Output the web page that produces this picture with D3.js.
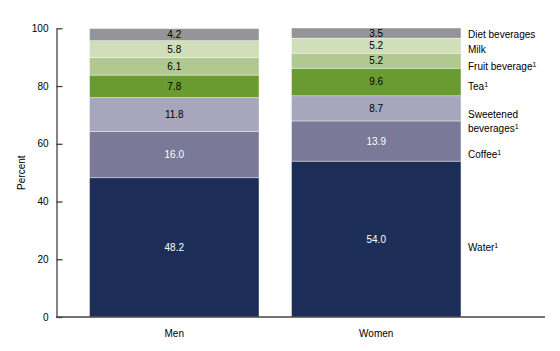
<!DOCTYPE html>
<html>
<head>
<meta charset="utf-8">
<script src="https://cdn.jsdelivr.net/npm/d3@7"></script>
<style>
  body { margin: 0; background: #fff; }
  text { font-family: "Liberation Sans", Arial, sans-serif; }
</style>
</head>
<body>
<div id="chart"></div>
<script>
// Data
const groups = ["Men", "Women"];
const beverages = ["Water", "Coffee", "Sweetened beverages", "Tea", "Fruit beverage", "Milk", "Diet beverages"];
const menValues = [48.2, 16.0, 11.8, 7.8, 6.1, 5.8, 4.2];
const womenValues = [54.0, 13.9, 8.7, 9.6, 5.2, 5.2, 3.5];
const legendLines = [["Water"], ["Coffee"], ["Sweetened", "beverages"], ["Tea"], ["Fruit beverage"], ["Milk"], ["Diet beverages"]];
const footnoted = [true, true, true, true, true, false, false];
const yTicks = [0, 20, 40, 60, 80, 100];

const colors = ["#1c2e58", "#7a7a98", "#a7a6bc", "#6a9b31", "#b1c98f", "#d0deb9", "#939598"];
const labelColors = ["#fff", "#fff", "#000", "#000", "#000", "#000", "#000"];

const width = 560, height = 351;
const svg = d3.select("#chart").append("svg")
    .attr("width", width)
    .attr("height", height);

const y = d3.scaleLinear().domain([0, 100]).range([317, 28.3]);
const x = d3.scaleBand().domain(groups).range([57, 493.5]).paddingInner(0.161).paddingOuter(0.161);

// Stack the values
const table = groups.map((g, i) => {
    const vals = i === 0 ? menValues : womenValues;
    const row = { group: g };
    beverages.forEach((b, j) => row[b] = vals[j]);
    return row;
});
const series = d3.stack().keys(beverages)(table);

// Bars
series.forEach((s, j) => {
    svg.append("g").selectAll("rect")
        .data(s)
        .enter()
        .append("rect")
        .attr("x", d => x(d.data.group))
        .attr("y", d => y(d[1]))
        .attr("width", x.bandwidth())
        .attr("height", d => y(d[0]) - y(d[1]))
        .attr("fill", colors[j])
        .attr("stroke", "#fff")
        .attr("stroke-width", 0.4);

    svg.append("g").selectAll("text")
        .data(s)
        .enter()
        .append("text")
        .attr("x", d => x(d.data.group) + x.bandwidth() / 2)
        .attr("y", d => y((d[0] + d[1]) / 2))
        .attr("dy", "0.35em")
        .attr("text-anchor", "middle")
        .attr("font-size", 10)
        .attr("fill", labelColors[j])
        .text(d => d3.format(".1f")(d[1] - d[0]));
});

// Legend labels, aligned to the middle of the men's segments
const legend = svg.append("g");
series.forEach((s, j) => {
    const d = s[0];
    const cy = y((d[0] + d[1]) / 2);
    const lines = legendLines[j];
    const t = legend.append("text")
        .attr("x", 468)
        .attr("y", cy)
        .attr("dy", "0.35em")
        .attr("font-size", 10)
        .attr("fill", "#000");
    lines.forEach((line, k) => {
        const ts = t.append("tspan")
            .attr("x", 468)
            .attr("dy", k === 0 ? "0.35em" : "1.4em")
            .text(line);
        if (k === lines.length - 1 && footnoted[j]) {
            t.append("tspan")
                .attr("font-size", 7)
                .attr("dy", "-0.45em")
                .text("1");
        }
    });
    t.attr("dy", null);
});

// Y axis
const yAxis = svg.append("g")
    .attr("transform", "translate(56.5,0)")
    .call(d3.axisRight(y).tickValues(yTicks).tickSize(6).tickSizeOuter(0));
yAxis.select(".domain").attr("stroke", "#333").attr("stroke-width", 1.2);
yAxis.selectAll(".tick line").attr("stroke", "#333").attr("stroke-width", 1.2);
yAxis.selectAll(".tick text")
    .attr("x", -8)
    .attr("text-anchor", "end")
    .attr("font-size", 10)
    .attr("fill", "#000")
    .attr("font-family", "Liberation Sans, Arial, sans-serif");

// Baseline
svg.append("line")
    .attr("x1", 56)
    .attr("x2", 545)
    .attr("y1", y(0))
    .attr("y2", y(0))
    .attr("stroke", "#444")
    .attr("stroke-width", 1.5);

// X labels
svg.append("g").selectAll("text")
    .data(groups)
    .enter()
    .append("text")
    .attr("x", d => x(d) + x.bandwidth() / 2)
    .attr("y", 337)
    .attr("text-anchor", "middle")
    .attr("font-size", 10)
    .text(d => d);

// Y title
svg.append("text")
    .attr("transform", "translate(25," + y(50) + ") rotate(-90)")
    .attr("text-anchor", "middle")
    .attr("font-size", 10)
    .text("Percent");
</script>
</body>
</html>
